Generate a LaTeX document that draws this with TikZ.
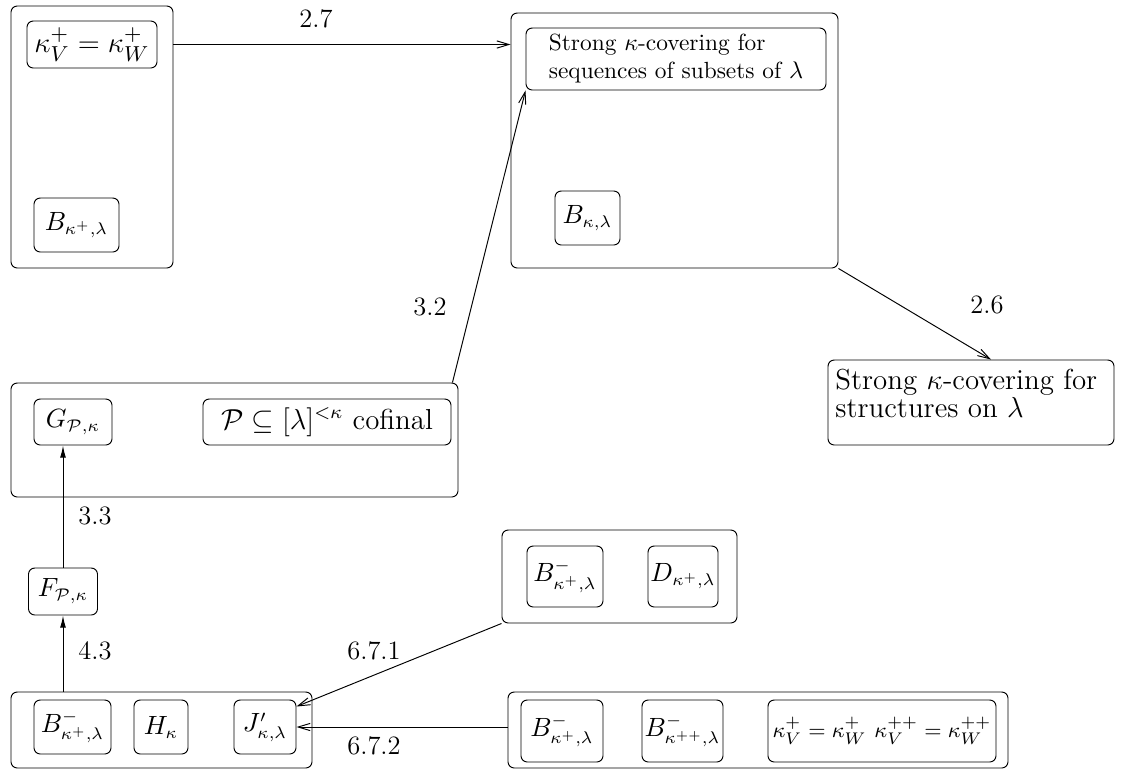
\documentclass[tikz,border=0pt]{standalone}
\usetikzlibrary{arrows.meta}
\begin{document}
\begin{tikzpicture}[x=0.415pt,y=-0.415pt,
  font=\fontsize{10}{12}\selectfont,
  bx/.style 2 args={draw, rounded corners=2.6pt, inner sep=0pt,
    minimum width=#1*0.415pt, minimum height=#2*0.415pt},
  mf/.style={font=\fontsize{10.5}{12.5}\selectfont},
  lab/.style={inner sep=0pt, font=\fontsize{11}{13}\selectfont},
  ar/.style={-{Straight Barb[length=5pt,width=3pt]}},
  arf/.style={-{Latex[length=5pt,width=2.4pt]}}]
\useasboundingbox (0,0) rectangle (1126,769);
% top-left group
\node[bx={162}{262}] (A) at (92,137) {};
\node[bx={130}{47},font=\fontsize{13}{15}\selectfont] (A1) at (92,44.5) {$\kappa_V^+=\kappa_W^+$};
\node[bx={85}{54},mf] (A2) at (76.5,225) {$B_{\kappa^+,\lambda}$};
% top-right group
\node[bx={327}{255}] (B) at (674.5,140.5) {};
\node[bx={300}{62}, font=\fontsize{9.7}{11.8}\selectfont] (B1) at (676,59) {\begin{tabular}{@{}l@{}}Strong $\kappa$-covering for\\sequences of subsets of $\lambda$\end{tabular}};
\node[bx={65}{54},mf] (B2) at (587.5,218) {$B_{\kappa,\lambda}$};
% middle-left group
\node[bx={447}{114}] (C) at (234.5,440) {};
\node[bx={78}{46},mf] (C1) at (73,422) {$G_{\mathcal P,\kappa}$};
\node[bx={248}{46},font=\fontsize{12}{14}\selectfont] (C2) at (327,422) {$\mathcal P\subseteq[\lambda]^{<\kappa}$ cofinal};
% F
\node[bx={69}{47},mf] (F) at (63,591.5) {$F_{\mathcal P,\kappa}$};
% bottom-left group
\node[bx={301}{76}] (D) at (161.5,730) {};
\node[bx={77}{54},mf] (D1) at (72.5,727) {$B^-_{\kappa^+,\lambda}$};
\node[bx={54}{54},mf] (D2) at (161,727) {$H_\kappa$};
\node[bx={62}{54},mf] (D3) at (265,727) {$J'_{\kappa,\lambda}$};
% middle group E
\node[bx={235}{93}] (E) at (619.5,576.5) {};
\node[bx={76}{61},mf] (E1) at (565,576.5) {$B^-_{\kappa^+,\lambda}$};
\node[bx={70}{61},mf] (E2) at (683,576.5) {$D_{\kappa^+,\lambda}$};
% bottom-right group
\node[bx={500}{76}] (G) at (758,730) {};
\node[bx={82}{62},mf] (G1) at (562,731) {$B^-_{\kappa^+,\lambda}$};
\node[bx={81}{62},mf] (G2) at (682.5,731) {$B^-_{\kappa^{++},\lambda}$};
\node[bx={228}{62},font=\fontsize{9.4}{11}\selectfont] (G3) at (882,731) {$\kappa_V^+=\kappa_W^+$ $\kappa_V^{++}=\kappa_W^{++}$};
% structures box
\node[bx={286}{85}] (H) at (971,402.5) {};
\node[anchor=north west, inner sep=0pt, align=left, font=\fontsize{12}{11.5}\selectfont] (Ht) at (835,369) {Strong $\kappa$-covering for\\structures on $\lambda$};
% arrows
\draw[ar] (A.east |- A1) -- (B.west |- A1);
\draw[ar] ([xshift=-2.5pt]C.north east) -- (B1.south west);
\draw[ar] (B.south east) -- ([xshift=8.3pt]H.north);
\draw[arf] (F.north) -- (F.north |- C1.south);
\draw[arf] (F.north |- D.north) -- (F.south);
\draw[ar] (E.south west) -- ([yshift=-2.9pt]D3.north east);
\draw[ar] (G.west |- D3) -- (D3.east);
% labels
\node[lab] (l27) at (316,19) {2.7};
\node[lab] (l32) at (430,307) {3.2};
\node[lab] (l26) at (987,305) {2.6};
\node[lab] (l33) at (95,516) {3.3};
\node[lab] (l43) at (95,651) {4.3};
\node[lab] (l671) at (374,651) {6.7.1};
\node[lab] (l672) at (374,746) {6.7.2};
\end{tikzpicture}
\end{document}
